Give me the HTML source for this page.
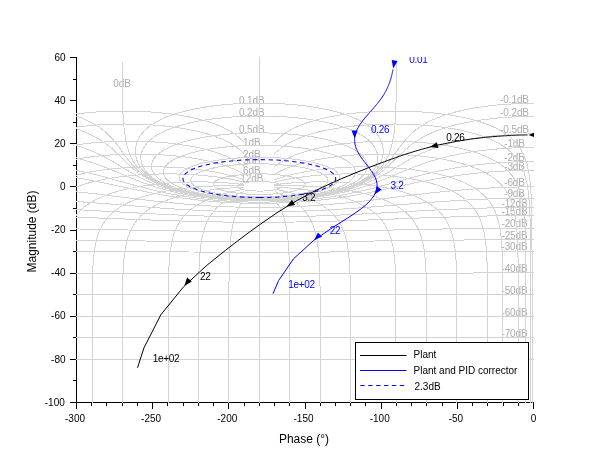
<!DOCTYPE html><html><head><meta charset="utf-8"><title>Nichols chart</title><style>html,body{margin:0;padding:0;background:#fff;overflow:hidden}svg{display:block}text{font-family:"Liberation Sans",sans-serif}</style></head><body><svg width="610" height="460" viewBox="0 0 610 460">
<rect width="610" height="460" fill="#fff"/>
<defs><clipPath id="c"><rect x="76" y="57" width="458" height="346"/></clipPath></defs>
<path d="M76.5,57 V403 M76,402.5 H534M76.5,403 v6M91.5,403 v3M106.5,403 v3M122.5,403 v3M137.5,403 v3M152.5,403 v6M167.5,403 v3M183.5,403 v3M198.5,403 v3M213.5,403 v3M228.5,403 v6M244.5,403 v3M259.5,403 v3M274.5,403 v3M289.5,403 v3M305.5,403 v6M320.5,403 v3M335.5,403 v3M350.5,403 v3M365.5,403 v3M381.5,403 v6M396.5,403 v3M411.5,403 v3M426.5,403 v3M442.5,403 v3M457.5,403 v6M472.5,403 v3M487.5,403 v3M503.5,403 v3M518.5,403 v3M533.5,403 v6M76,402.5 h-6M76,380.5 h-3M76,359.5 h-6M76,337.5 h-3M76,316.5 h-6M76,294.5 h-3M76,273.5 h-6M76,251.5 h-3M76,230.5 h-6M76,208.5 h-3M76,186.5 h-6M76,165.5 h-3M76,143.5 h-6M76,122.5 h-3M76,100.5 h-6M76,79.5 h-3M76,57.5 h-6" fill="none" stroke="#000" stroke-width="1" shape-rendering="crispEdges"/>
<g clip-path="url(#c)">
<g fill="#acacac" font-size="10" text-anchor="middle" letter-spacing="-0.12">
<text x="251.8" y="181.8">12dB</text>
<text x="251.8" y="174.1">6dB</text>
<text x="251.8" y="164.1">3dB</text>
<text x="251.8" y="157.6">2dB</text>
<text x="251.8" y="145.6">1dB</text>
<text x="251.8" y="133.2">0.5dB</text>
<text x="251.8" y="116.3">0.2dB</text>
<text x="251.8" y="103.5">0.1dB</text>
<text x="122" y="87">0dB</text>
<text x="514.5" y="102.7">-0.1dB</text>
<text x="514.5" y="115.8">-0.2dB</text>
<text x="514.5" y="133.2">-0.5dB</text>
<text x="514.5" y="146.8">-1dB</text>
<text x="514.5" y="160.9">-2dB</text>
<text x="514.5" y="169.6">-3dB</text>
<text x="514.5" y="186.1">-6dB</text>
<text x="514.5" y="197.4">-9dB</text>
<text x="514.5" y="206.6">-12dB</text>
<text x="514.5" y="214.9">-15dB</text>
<text x="514.5" y="227.3">-20dB</text>
<text x="514.5" y="239.0">-25dB</text>
<text x="514.5" y="250.3">-30dB</text>
<text x="514.5" y="272.2">-40dB</text>
<text x="514.5" y="293.9">-50dB</text>
<text x="514.5" y="315.5">-60dB</text>
<text x="514.5" y="337.1">-70dB</text>
</g>
<path d="M259.3,191.1 264.1,191 268.3,190.7 272.1,190.2 275.6,189.5 277.1,189.1 278.4,188.7 279.5,188.2 280.2,187.9 280.9,187.3 281.3,186.9 281.5,186.5 281.5,186 281.2,185.6 281,185.3 280.2,184.6 279,184 277.3,183.5 275.2,182.9 272.7,182.4 269.8,182 267.4,181.8 264,181.6 261.1,181.5 257.8,181.5 254.6,181.6 252.1,181.7 248.8,182 245.9,182.4 243.4,182.9 241.3,183.5 239.7,184 238.4,184.6 238,184.9 237.5,185.4 237.3,185.7 237.2,186 237.1,186.3 237.3,186.8 237.4,187 237.8,187.5 238.9,188.1 240.2,188.7 242.3,189.3 244.3,189.8 247,190.3 249.9,190.6 252.9,190.9 256.1,191 259.3,191.1M259.3,194.5 264.7,194.4 269.1,194.2 273.5,194 277.8,193.6 282,193.1 286.1,192.5 289.9,191.8 292.9,191.2 295.6,190.5 298.1,189.7 300.3,188.8 302.2,187.8 303.1,187.3 303.7,186.7 304.6,185.8 304.9,185.2 305.1,184.6 305.1,183.9 305.1,183.6 304.8,182.9 304.3,182.1 303.5,181.4 302.4,180.7 301,179.9 299.3,179.1 296,178 291.7,176.9 286.5,175.9 280.2,175 275.6,174.5 268,174 262,173.9 255,173.9 248,174.2 243.1,174.5 236.2,175.3 230.3,176.2 225.4,177.2 221.4,178.3 218.4,179.5 216.9,180.3 215.6,181 214.7,181.8 214.1,182.5 213.7,183.2 213.5,183.9 213.5,184.6 213.6,184.9 213.9,185.5 214.3,186.1 215.2,187 216,187.5 217.3,188.3 218.8,189 220.5,189.7 222.4,190.3 224.4,190.8 228.7,191.8 234.2,192.8 240,193.5 246,194 252.2,194.4 259.3,194.5M259.3,196.9 267.1,196.8 273.7,196.5 280.3,196.1 286.8,195.5 293.2,194.8 298.4,194 304.5,192.9 309.3,191.7 313.9,190.4 316.5,189.6 318.1,188.9 321.2,187.6 322.6,186.8 323.8,186.1 325,185.2 326,184.3 326.8,183.4 327.2,182.9 327.7,181.9 327.9,181.3 328,180.2 327.9,179.6 327.8,179 327.5,178.4 327.1,177.7 326.6,177.1 326,176.4 325.2,175.7 324.2,174.9 323.1,174.2 321.7,173.4 320.1,172.7 318.3,171.9 316.2,171 313.7,170.2 310.9,169.4 307.7,168.6 304.2,167.8 300.2,167 295.7,166.3 290.8,165.7 285.5,165.1 279.8,164.6 275.8,164.3 271,164.1 266,163.9 260.9,163.8 255.8,163.8 250.8,163.9 245.8,164.1 238.8,164.6 233.1,165.1 227.8,165.7 222.9,166.3 218.4,167 214.4,167.8 210.9,168.6 207.7,169.4 204.9,170.2 202.5,171 200.3,171.9 198.5,172.7 196.9,173.4 195.5,174.2 194.4,174.9 193.4,175.7 192.6,176.4 192,177.1 191.5,177.7 191.1,178.4 190.9,179 190.7,179.6 190.6,180.2 190.7,180.8 190.9,181.9 191.4,182.9 191.8,183.4 192.6,184.3 194.2,185.6 196.1,186.8 198.2,187.9 200.5,188.9 203,189.9 206.5,191 209.3,191.7 213.2,192.6 217.2,193.4 221.2,194.1 225.4,194.8 229.7,195.3 234,195.7 239.4,196.2 243.8,196.5 249.3,196.7 253.8,196.8 259.3,196.9M259.3,197.8 267.6,197.7 275.9,197.4 284.1,196.8 291.1,196.2 299.2,195.2 305.9,194.1 312.5,192.8 317.8,191.5 322.9,190 325.8,189 327.6,188.2 330.3,187.1 331.9,186.2 333.5,185.3 334.9,184.3 336.3,183.3 337.4,182.2 338.3,181 338.7,180.3 339,179.7 339.3,179 339.4,178.3 339.5,177.5 339.4,176.8 339.2,176 338.9,175.1 338.4,174.3 337.8,173.4 336.9,172.4 335.8,171.4 334.4,170.4 332.7,169.3 330.6,168.2 328.1,167.1 325.1,165.9 321.4,164.6 317.1,163.4 312,162.2 305.9,161 298.9,159.9 290.9,158.9 286.9,158.5 281.2,158 275.7,157.7 269.9,157.4 264.4,157.3 258.9,157.3 252.9,157.3 247,157.5 241.3,157.8 235.8,158.1 230.2,158.6 227.7,158.9 219.7,159.9 212.7,161 206.7,162.2 201.5,163.4 197.2,164.6 193.5,165.9 190.5,167.1 188,168.2 185.9,169.3 184.2,170.4 182.8,171.4 181.7,172.4 180.8,173.4 180.2,174.3 179.7,175.1 179.4,176 179.2,176.8 179.2,177.5 179.2,178.3 179.4,179 179.6,179.7 179.9,180.3 180.7,181.6 181.2,182.2 182.4,183.3 183.7,184.3 185.9,185.7 188.3,187.1 191,188.2 193.8,189.3 197.8,190.6 201.9,191.8 206.1,192.8 210.5,193.7 214.9,194.5 219.5,195.2 225.2,195.9 229.8,196.4 235.7,196.9 241.5,197.3 247.4,197.6 253.4,197.8 259.3,197.8M259.3,198.8 269.4,198.7 279.5,198.2 289.6,197.5 298.3,196.6 307,195.4 311.9,194.6 315.5,193.9 320.3,192.9 323.9,192.1 327.4,191.2 330.9,190.2 334.3,189.1 336.5,188.3 339.8,186.9 341.9,186 344.9,184.5 346.9,183.3 348.7,182.1 350.4,180.8 351.9,179.4 353.3,177.8 353.8,176.9 354.3,176 354.8,175.1 355.1,174.1 355.3,173.1 355.4,172 355.3,170.8 355,169.6 354.4,168.2 353.6,166.8 352.4,165.3 350.7,163.6 348.4,161.8 345.3,159.9 341.1,157.8 335.5,155.5 327.8,153.1 316.5,150.4 311.1,149.4 305.1,148.4 299.1,147.6 293.3,147 286.3,146.3 279.7,145.9 272.8,145.6 265.6,145.4 259.3,145.3 252.1,145.4 245,145.6 238.1,146 231.5,146.4 224.6,147.1 218.1,147.8 212.3,148.6 206.4,149.6 201.1,150.6 190.8,153.1 183.2,155.5 177.5,157.8 173.3,159.9 170.2,161.8 167.9,163.6 166.2,165.3 165,166.8 164.2,168.2 163.7,169.6 163.4,170.8 163.3,172 163.3,173.1 163.5,174.1 163.9,175.1 164.3,176 164.8,176.9 165.4,177.8 166.7,179.4 168.2,180.8 169.1,181.5 170.8,182.7 173.7,184.5 175.7,185.5 177.8,186.5 181,187.8 185.4,189.4 190,190.8 194.7,192.1 199.5,193.2 205.5,194.4 211.7,195.4 217.8,196.3 224.1,197 231.6,197.7 237.9,198.2 245.4,198.5 251.7,198.7 259.3,198.8M259.3,199.3 265.8,199.3 271,199.1 277.5,198.9 282.7,198.6 289.2,198.1 294.4,197.7 299.6,197.1 304.8,196.5 309.9,195.7 315,194.9 320.1,194 323.9,193.2 329,192 332.7,191 336.5,189.9 340.2,188.7 343.8,187.4 347.4,185.9 350.9,184.3 353.1,183.1 355.4,181.9 357.5,180.5 359.6,178.9 361.5,177.2 363.3,175.4 364.1,174.3 364.8,173.3 365.5,172.1 366.1,170.9 366.6,169.6 366.9,168.1 367.1,166.6 367.1,164.9 366.7,163.1 366,161.1 364.8,158.8 362.7,156.2 359.6,153.3 354.6,149.9 346.5,145.9 345.7,145.5 340.7,143.7 335.9,142.1 330.1,140.5 324,139.1 318,137.8 311.1,136.6 304.6,135.7 297.4,134.8 289.6,134.1 281.2,133.5 272.3,133.1 264.9,132.9 257.4,132.9 248.2,133 241,133.3 232.3,133.8 224.2,134.5 216.8,135.3 210,136.3 202.8,137.4 196.5,138.6 190.2,140.1 184.1,141.7 179,143.3 175.3,144.6 172.1,145.9 164,149.9 159,153.3 155.9,156.2 153.9,158.8 152.6,161.1 151.9,163.1 151.6,164.9 151.5,166.6 151.7,168.1 152,169.6 152.5,170.9 153.1,172.1 153.8,173.3 154.5,174.3 155.3,175.4 156.2,176.3 158.1,178.1 159.1,178.9 161.1,180.5 164.4,182.5 167.7,184.3 170.1,185.4 172.4,186.5 177.2,188.3 182.1,189.9 187.1,191.3 193.4,192.9 199.8,194.2 206.2,195.3 213.9,196.5 220.3,197.3 228.1,198 235.9,198.6 243.7,199 251.5,199.2 259.3,199.3M259.3,199.6 267.3,199.6 273.9,199.4 280.5,199.1 287.1,198.7 293.8,198.1 300.4,197.4 307,196.6 312.2,195.9 318.8,194.8 324.1,193.7 329.3,192.6 334.6,191.3 339.8,189.8 343.6,188.6 348.8,186.7 352.6,185.2 356.4,183.4 360.1,181.4 363.8,179.2 366.2,177.5 368.5,175.6 370.7,173.5 371.8,172.3 372.8,171.1 373.8,169.7 374.7,168.3 375.6,166.7 376.4,165 377,163.1 377.5,161 377.8,158.6 377.7,155.9 377.1,152.7 375.5,148.8 372.3,144 371.3,142.9 369.9,141.4 368.4,140 366.7,138.6 365.1,137.4 363.2,136.1 361,134.8 357,132.5 352.7,130.5 349.6,129.2 347.2,128.3 341.7,126.5 338.5,125.5 334.9,124.5 328.7,122.9 321.4,121.4 312.8,119.9 306.2,118.9 298.9,118.1 291,117.3 282.5,116.7 273.4,116.3 264,116.1 254.6,116.1 245.2,116.3 236.2,116.7 227.6,117.3 219.7,118.1 212.4,118.9 202.8,120.4 197.2,121.4 189.9,122.9 183.7,124.5 180.1,125.5 176.9,126.5 171.4,128.3 169.1,129.2 165.9,130.5 163.2,131.8 160.9,132.9 157,135.1 154.9,136.5 153.1,137.7 151.2,139.2 149.6,140.6 147.7,142.4 146.3,144 143.1,148.8 141.6,152.7 140.9,155.9 140.8,158.6 141.1,161 141.6,163.1 142.2,165 143,166.7 143.9,168.3 144.8,169.7 145.8,171.1 146.8,172.3 149,174.6 150.1,175.6 152.5,177.5 153.6,178.4 156,180 159.7,182.1 162.2,183.4 164.7,184.6 169.8,186.7 175,188.6 181.5,190.6 188,192.3 194.5,193.7 201.1,195 209,196.3 216.9,197.3 224.9,198.1 232.8,198.7 242.1,199.3 250,199.5 259.3,199.6M259.3,199.7 267.3,199.7 274,199.5 282,199.1 288.6,198.7 296.6,198 303.3,197.2 309.9,196.4 316.6,195.3 323.2,194.1 328.5,193 335.2,191.4 340.4,189.9 345.7,188.3 349.6,186.9 354.9,184.7 358.8,182.9 362.6,180.8 366.5,178.5 369,176.7 370.2,175.7 372.7,173.6 375.1,171.2 376.2,169.8 377.4,168.4 378.5,166.8 379.5,165.1 380.5,163.2 381.4,161 382.2,158.6 382.9,155.9 383.2,152.6 383.1,148.7 382.1,143.8 381.3,141.5 380.3,139.3 379.3,137.4 378.2,135.7 377.2,134.3 375.9,132.7 374.3,130.9 372.9,129.5 371.2,128 369.8,126.9 366.6,124.5 364.6,123.3 362.3,121.9 358.1,119.7 354.6,118.1 352.6,117.2 348,115.5 345.4,114.5 339.2,112.6 335.5,111.6 331.5,110.6 326.9,109.5 321.9,108.5 316.2,107.5 309.9,106.5 302.9,105.6 295.3,104.8 287,104.1 278.1,103.6 268.8,103.3 259.3,103.2 249.8,103.3 240.5,103.6 231.7,104.1 223.4,104.8 215.7,105.6 208.7,106.5 202.4,107.5 196.8,108.5 191.7,109.5 187.2,110.6 183.1,111.6 179.5,112.6 176.2,113.6 170.6,115.5 166,117.2 164,118.1 160.5,119.7 156.3,121.9 154,123.3 152,124.5 150.3,125.8 148.1,127.4 146.3,129 144.8,130.5 143.5,131.8 142.1,133.5 140.9,135 139.7,136.8 138.8,138.4 137.9,140.2 137.1,142 136.5,143.8 135.5,148.7 135.4,152.6 135.8,155.9 136.4,158.6 137.2,161 138.1,163.2 139.1,165.1 140.1,166.8 141.2,168.4 142.4,169.8 144.7,172.4 145.9,173.6 148.4,175.7 149.6,176.7 152.2,178.5 156,180.8 158.6,182.2 161.1,183.5 163.7,184.7 166.4,185.8 171.6,187.8 174.2,188.7 178.2,189.9 184.8,191.7 191.4,193.3 198,194.6 206,196 214,197.1 223.3,198.1 231.3,198.8 240.6,199.3 250,199.6 259.3,199.7M259.3,199.9 270,199.7 279.4,199.4 290.2,198.7 299.5,197.8 308.9,196.7 318.3,195.2 326.4,193.7 330.4,192.8 334.4,191.9 338.4,190.8 342.5,189.6 346.5,188.4 349.2,187.4 353.2,185.9 355.9,184.8 358.6,183.6 361.2,182.3 363.9,180.9 366.6,179.4 370.6,176.8 373.3,174.8 374.7,173.7 377.3,171.3 378.7,169.9 380,168.5 381.4,166.9 382.7,165.2 384,163.3 385.4,161.1 386.7,158.7 388.1,156 389.4,152.7 390.7,148.8 392.2,143.3 392.8,140.4 393.4,137.3 394.1,131.9 394.8,125.6 395.3,118.9 395.7,111.3 396,103.1 396.2,92.1 396.3,82.5 396.4,61.9M259.3,199.9 248.6,199.7 239.2,199.4 228.5,198.7 219.1,197.8 209.7,196.7 200.3,195.2 192.2,193.7 188.2,192.8 184.2,191.9 180.2,190.8 176.2,189.6 172.1,188.4 169.4,187.4 165.4,185.9 162.7,184.8 160.1,183.6 157.4,182.3 154.7,180.9 152,179.4 148,176.8 145.3,174.8 144,173.7 141.3,171.3 139.9,169.9 138.6,168.5 137.3,166.9 135.9,165.2 134.6,163.3 133.2,161.1 131.9,158.7 130.6,156 129.2,152.7 127.9,148.8 126.4,143.3 125.8,140.4 125.3,137.3 124.5,131.9 123.8,125.6 123.3,118.9 122.9,111.3 122.7,103.1 122.4,92.1 122.3,82.5 122.2,61.9M42.7,107.7 48.4,108.7 53.6,109.8 58.3,110.8 62.5,111.8 66.2,112.8 72.6,114.7 75.4,115.7 80.2,117.4 86,119.9 89.2,121.4 91.9,122.8 94.2,124.1 97.2,126 101.2,128.7 104.9,131.6 108.1,134.5 109.9,136.3 111.5,138 114.1,140.9 116.5,144 120.2,148.9 125.3,156.1 129.3,161.3 131.1,163.4 132.8,165.3 134.4,167 137.5,170 139,171.4 142,173.8 144.9,175.9 147.8,177.8 150.6,179.5 154.8,181.8 157.6,183.1 161.7,184.9 165.9,186.6 171.4,188.5 175.4,189.8 180.9,191.3 186.3,192.6 193.1,194.1 198.5,195.1 205.3,196.2 212.1,197.1 218.8,197.9 225.6,198.5 233.7,199.2 240.4,199.5 248.5,199.8 255.3,199.9 263.4,199.9 271.5,199.8 278.2,199.5 284.9,199.2 291.7,198.7 298.4,198 305.2,197.3 312,196.4 318.7,195.3 325.5,194.1 330.9,192.9 336.4,191.6 341.8,190.2 347.3,188.5 351.4,187.1 356.9,184.9 361,183.1 363.8,181.8 366.6,180.3 369.4,178.7 372.3,176.9 375.2,174.9 378.1,172.6 381.1,170 382.7,168.6 385.9,165.3 387.6,163.4 389.3,161.3 393.3,156.1 398.4,148.9 402.1,144 404.8,140.7 407.1,138 409.4,135.6 411.8,133.3 414.3,131.1 416.7,129.2 419.7,127.1 422.3,125.4 425.5,123.5 429.5,121.4 432.6,119.9 436.3,118.3 440.7,116.6 446,114.7 449,113.8 456.2,111.8 460.3,110.8 465,109.8 470.2,108.7 475.9,107.7 482.4,106.8 489.4,105.8 497.2,105 505.6,104.3 514.6,103.8 524,103.5 533.6,103.4M46.1,121.3 54.1,122.9 61,124.4 66.9,125.9 73.4,127.8 76.2,128.8 80,130.1 85.3,132.2 90.4,134.5 95.1,136.9 99.8,139.6 104.2,142.6 106.8,144.4 112.7,149.3 116.9,153.1 125.4,161.4 129.6,165.4 131.5,167.2 135.1,170.2 136.8,171.5 140,173.9 143.2,176 146.2,177.9 149.2,179.6 152.1,181.2 155,182.6 157.9,183.9 160.7,185 165,186.7 169.2,188.1 174.7,189.9 180.3,191.4 185.8,192.7 191.3,193.9 196.8,194.9 202.2,195.9 209,196.9 214.5,197.6 221.3,198.3 228.1,198.9 234.9,199.3 241.7,199.7 248.5,199.9 255.2,200.1 263.4,200.1 270.2,199.9 276.9,199.7 283.7,199.3 290.5,198.9 297.3,198.3 302.8,197.7 309.6,196.9 315,196.1 320.5,195.2 326,194.2 331.5,193 337,191.7 342.5,190.3 346.7,189 352.2,187.2 356.5,185.6 360.7,183.9 363.6,182.6 366.5,181.2 369.4,179.6 372.4,177.9 375.5,176 378.6,173.9 380.2,172.7 383.5,170.2 385.3,168.7 389,165.4 393.2,161.4 401.7,153.1 405.9,149.3 411.8,144.4 414.8,142.3 417.5,140.5 420.3,138.8 423.5,136.9 426.8,135.2 430.6,133.4 434.3,131.8 438.6,130.1 442.4,128.8 446.7,127.4 451.7,125.9 455.6,124.9 459.8,123.9 464.5,122.9 469.7,121.8 475.6,120.8 485.5,119.4 493,118.5 497,118.1 505.4,117.4 509.9,117.1 519.2,116.7 523.9,116.6 533.6,116.5M45.5,138.5 52.5,139.7 58.6,141 64.9,142.4 70.4,143.8 75.8,145.3 81,147 91.7,151 99.4,154.4 105.2,157.3 109.9,159.9 117.3,164.2 127.9,170.6 132.2,173.2 138,176.4 143.3,179.2 146.6,180.8 149.9,182.2 156.2,184.8 159.3,186 163.8,187.5 171.2,189.8 175.5,191 181.3,192.4 185.6,193.4 191.2,194.5 196.9,195.5 202.5,196.4 208.1,197.2 213.7,197.9 219.2,198.5 226.2,199.1 231.7,199.5 238.6,199.9 244.1,200.1 251,200.3 256.6,200.4 263.4,200.4 270.3,200.3 275.9,200.1 286.9,199.5 293.9,199 299.4,198.5 305,197.9 310.5,197.2 316.1,196.4 321.7,195.5 327.4,194.5 331.6,193.7 337.3,192.4 341.6,191.4 346,190.2 350.4,188.9 354.8,187.5 357.8,186.5 364,184.2 370.3,181.5 373.7,180 377.1,178.3 382.5,175.4 386.5,173.2 390.8,170.6 401.4,164.2 408.7,159.9 413.4,157.3 419.2,154.4 426.9,151 437.7,147 444.8,144.7 449,143.6 452.9,142.6 457.2,141.6 462,140.5 470.7,138.9 479.6,137.5 489.9,136.2 496.3,135.6 501.4,135.2 512.3,134.5 523.8,134.1 533.6,133.9M46.2,151.8 51.9,152.7 64.9,155.2 75.3,157.6 83.6,159.9 90.5,162 96.2,164 101.2,165.8 105.6,167.4 113,170.4 133.9,179.1 140,181.5 147.5,184.3 154.5,186.6 162.8,189.1 169.1,190.8 176.9,192.7 185.9,194.5 190.4,195.4 196.3,196.3 206.5,197.8 212.3,198.5 218,199 223.8,199.6 229.5,200 240.9,200.6 252.2,200.9 263.6,200.9 274.9,200.7 286.3,200.2 297.7,199.3 307.8,198.3 318,197 323.8,196.1 328.2,195.4 337.2,193.6 346.4,191.6 352.7,190 359.1,188.2 365.8,186.1 372.9,183.6 378.6,181.5 384.7,179.1 409.1,169 417.4,165.8 422.4,164 428.2,162 435,159.9 443.4,157.6 453.7,155.2 466.7,152.7 472.4,151.8 482.3,150.5 491.8,149.4 502.3,148.6 512.6,148 523.5,147.6 533.6,147.5M45.7,165.3 54.5,166.5 62.3,167.7 69.3,169 75.6,170.2 86.5,172.5 95.7,174.7 103.5,176.7 113.6,179.5 136.7,185.9 149.2,189.1 156.8,190.9 165.7,192.9 172.6,194.3 181,195.8 190.7,197.3 201.7,198.8 211,199.8 221.7,200.7 232.3,201.4 242.8,201.9 253.3,202.1 263.8,202.1 274.3,201.9 283.3,201.6 293.8,201 303,200.2 312.2,199.3 321.6,198.2 331.1,196.9 340.9,195.2 347.7,194 354.6,192.5 361.9,190.9 369.5,189.1 381.9,185.9 405,179.5 415.1,176.7 422.9,174.7 432.1,172.5 443,170.2 449.3,169 456.3,167.7 464.2,166.5 472.9,165.3 482.6,164.2 493.3,163.2 498,162.8 506.8,162.3 515.5,161.9 524.5,161.6 533.6,161.6M45.3,173.5 52,174.3 64.1,175.9 74.7,177.5 84.1,179.1 92.4,180.7 103.3,182.8 136.4,189.9 151.5,192.9 159.5,194.4 167.1,195.7 174.4,196.9 183.2,198.2 193.5,199.5 203.5,200.6 213.3,201.5 223,202.2 232.5,202.7 242,203.1 251.5,203.3 262.5,203.4 271.9,203.2 281.3,202.9 290.9,202.5 300.5,201.9 310.2,201.1 318.4,200.3 328.5,199.1 337.1,198 344.2,196.9 351.5,195.7 359.1,194.4 367.1,192.9 382.2,189.9 415.3,182.8 430.3,179.9 439.1,178.3 449,176.7 460.3,175.1 466.6,174.3 473.3,173.5 480.4,172.8 488,172.1 496,171.5 505.4,171 514.9,170.6 524.2,170.4 533.6,170.3M42.4,188.8 51.3,189.5 59.9,190.2 68,190.9 79.3,192.1 99.6,194.3 138,199.1 154.3,201 171.4,202.8 187.5,204.3 197.2,205.1 206.7,205.7 216,206.3 225.1,206.7 234.2,207 243.2,207.3 252.2,207.4 262.9,207.4 271.8,207.3 280.8,207.1 297.1,206.5 306.3,206.1 315.7,205.5 325.3,204.8 333.1,204.1 347.2,202.8 364.4,201 380.6,199.1 415.9,194.7 435.7,192.4 454.6,190.5 471.7,189.1 485.7,188.2 500.6,187.5 517.1,187 525.4,186.8 533.6,186.8M46.1,199.7 64,200.7 80.8,201.8 99.4,203.2 154.6,207.6 172.9,208.9 188.2,209.8 209.2,210.9 227.5,211.5 245.4,211.9 263.3,212 281.1,211.8 297.2,211.3 313.6,210.7 332.6,209.7 347.9,208.7 364,207.6 419.2,203.2 437.8,201.8 454.6,200.7 472.6,199.7 487.8,199 503.7,198.5 520.1,198.2 533.6,198.1M45.3,208.4 61.7,209.1 80.5,209.9 101.1,211 156.4,214 173.1,214.8 189.3,215.5 209.5,216.2 227,216.6 246.4,216.9 263.6,216.9 278.6,216.8 296,216.5 313.6,216.1 331.6,215.4 347.8,214.7 364.7,213.9 417.5,211 438.2,209.9 456.9,209.1 473.3,208.4 490.3,207.9 504.2,207.6 518.4,207.4 533.6,207.3M43.7,216.3 62.1,216.8 80,217.3 155.7,220.2 189.9,221.3 208.8,221.7 227.3,222.1 245.6,222.2 261.6,222.3 277.5,222.2 295.9,222 312.2,221.7 331.1,221.2 362.9,220.2 435.7,217.4 453.5,216.9 471.8,216.4 487.5,216 503.5,215.7 519.7,215.6 533.6,215.6M44.9,228.5 79.2,229 157.4,230.6 190.4,231.2 227.5,231.7 261.7,231.8 296,231.6 330.7,231.2 363.8,230.6 436.6,229.1 473.7,228.5 503.1,228.1 533.6,228M45.2,239.9 81.3,240.3 190.4,241.5 226.3,241.7 261.8,241.8 294.9,241.7 330.8,241.5 437.3,240.3 473.5,239.9 504.5,239.8 533.6,239.7M43.8,251.1 188.9,252 225.5,252.1 261.9,252.1 295.7,252.1 329.7,252 472.1,251.1 533.6,251M45.3,273 190.2,273.3 262,273.3 331.1,273.3 473.3,273 533.6,272.9M44.9,294.6 262,294.7 533.6,294.6M44.8,316.2 533.6,316.2M44.7,337.8 533.6,337.8M44.7,359.4 533.6,359.4M274.5,142.1 283.3,134.3 291.8,129.2 300,125.4 307.9,122.5 315.6,120.2 322.9,118.3 330.1,116.8 337,115.5 343.6,114.5 350.1,113.6 356.3,113 362.3,112.4 368.1,112 379.1,111.4 384.4,111.2 394.3,111.1 403.6,111.1 408,111.3 416.4,111.6 420.3,111.9 427.9,112.4 438.3,113.5 447.6,114.7 453.4,115.6 458.7,116.6 463.7,117.6 468.3,118.6 472.7,119.7 476.8,120.9 480.5,122 484.1,123.2 487.4,124.4 490.5,125.6 493.3,126.9 496,128.1 498.5,129.4 502,131.4 504.1,132.7 507,134.7 509.6,136.7 511.9,138.7 513.4,140.1 515.4,142.1 517.2,144.2 518.8,146.4 520.2,148.5 521.5,150.7 522.7,152.9 524.1,156 525.1,158.3 525.9,160.7 526.7,163.1 527.6,166.5 528.1,169.1 528.8,172.8 529.5,176.8 529.9,179.9 530.3,184.5 530.7,188.3 531.2,197.6 531.6,208.4 531.9,222.7 532,249.6 532.1,758M244.1,142.1 235.3,134.3 226.8,129.2 218.6,125.4 210.7,122.5 203.1,120.2 195.7,118.3 188.5,116.8 181.6,115.5 175,114.5 168.5,113.6 162.3,113 156.3,112.4 150.5,112 144.9,111.6 134.3,111.2 129.2,111.1 119.6,111.1 110.6,111.3 102.3,111.6 94.5,112.1 87.2,112.7 80.4,113.5 71,114.7 65.3,115.6 57.4,117.1 52.6,118.1 45.9,119.7M274.5,153.5 282.2,147.1 289.5,142.6 296.7,139.1 303.7,136.4 310.4,134.2 317,132.4 323.3,130.8 329.5,129.6 335.5,128.5 341.3,127.6 347,126.8 352.5,126.2 363,125.2 372.8,124.6 382.1,124.2 386.6,124.1 395.1,124 406.9,124.3 417.8,124.8 427.7,125.5 433.8,126.1 439.6,126.8 445,127.5 450.2,128.3 455,129.1 459.6,130 463.8,130.9 467.9,131.9 471.7,132.9 477,134.4 483.3,136.5 486.3,137.6 490.3,139.2 492.8,140.3 496.3,142 498.5,143.2 501.5,145 504.2,146.8 506.7,148.6 509,150.5 511.1,152.3 513.1,154.3 514.8,156.2 516.4,158.2 517.9,160.3 519.2,162.4 520.5,164.5 521.6,166.7 522.9,169.7 523.9,172.1 524.7,174.6 525.4,177.2 526.1,180 526.8,182.9 527.4,186 527.9,189.5 528.4,193.3 529.1,200.9 529.6,208.9 530,217.4 530.3,231.2 530.5,252.4 530.6,770.9M244.1,153.5 236.5,147.1 229.1,142.6 221.9,139.1 214.9,136.4 208.2,134.2 201.6,132.4 195.3,130.8 189.1,129.6 183.1,128.5 177.3,127.6 171.6,126.8 166.2,126.2 160.8,125.6 150.7,124.8 141.1,124.3 132,124.1 123.5,124 115.5,124.2 108,124.4 100.8,124.8 94.1,125.2 84.8,126.1 79,126.8 71,127.9 63.6,129.1 56.9,130.5 50.7,131.9 45.1,133.4M274.5,166.5 280.6,162.2 286.5,158.9 292.3,156.2 297.9,154 303.5,152.1 308.8,150.5 314.1,149.1 319.2,147.9 324.2,146.8 329.1,145.9 333.9,145.2 343.2,143.9 347.6,143.3 356.2,142.5 364.4,141.9 376,141.4 386.8,141.2 396.9,141.3 403.2,141.4 409.2,141.7 415,142 420.5,142.4 430.7,143.4 440,144.6 448.4,145.9 452.4,146.6 457.9,147.8 461.4,148.6 466.4,149.8 469.5,150.7 473.9,152 476.6,152.9 480.5,154.3 484.2,155.7 487.6,157.2 489.7,158.2 492.7,159.7 495.5,161.3 498.1,162.9 500.6,164.5 502.8,166.2 504.9,168 506.9,169.8 508.7,171.7 510.4,173.6 512,175.6 513.5,177.7 514.9,179.8 516.2,182.1 517.4,184.5 518.5,187.1 519.5,189.9 520.2,191.9 521.1,195.1 521.7,197.5 522.5,201.4 523,204.4 523.5,207.7 523.9,211.6 524.6,218.9 525,225.7 525.2,230.1 525.6,243.5 525.8,256.7 526,788.1M244.1,166.5 238,162.2 232.1,158.9 226.3,156.2 220.7,154 215.2,152.1 209.8,150.5 204.5,149.1 199.4,147.9 194.4,146.8 189.5,145.9 184.7,145.2 180,144.5 171,143.3 166.7,142.9 158.3,142.2 150.3,141.7 142.6,141.4 135.3,141.2 128.4,141.2 121.8,141.3 112.4,141.5 106.5,141.8 98.2,142.4 90.4,143.1 83.2,144 76.5,144.9 70.2,145.9 64.4,147 57.2,148.6 52.2,149.8 46.2,151.5M274.5,174.2 279.4,171.5 284.2,169.3 288.9,167.4 293.5,165.7 298,164.3 302.5,163 306.8,161.9 311.1,160.9 315.3,160 323.4,158.5 327.4,157.9 335.1,156.8 338.8,156.4 346.1,155.6 356.5,154.8 366.3,154.4 372.6,154.2 378.6,154.1 389.9,154.2 400.4,154.5 405.4,154.8 412.5,155.3 417,155.7 423.5,156.4 431.6,157.4 440.8,158.8 449.2,160.5 456.9,162.2 463.8,164.1 467.7,165.3 471.4,166.6 477,168.8 480.1,170.2 483.1,171.6 485,172.6 487.7,174.1 490.2,175.6 492.6,177.2 494.9,178.9 497.1,180.7 499.1,182.5 500.4,183.8 502.2,185.8 503.4,187.2 505.1,189.4 506.1,190.9 507.6,193.4 508.6,195.2 510,198.1 510.9,200.1 511.7,202.4 512.5,204.8 513.3,207.6 514.1,210.6 515.2,216.1 515.9,220.6 516.2,223.3 516.8,230 517.2,234.3 517.5,239.9 517.8,247.7 518.1,260.8 518.4,801M244.1,174.2 239.2,171.5 234.4,169.3 229.7,167.4 225.1,165.7 220.6,164.3 216.1,163 211.8,161.9 207.5,160.9 203.3,160 195.2,158.5 187.3,157.3 179.8,156.4 172.5,155.6 165.5,155.1 158.8,154.7 152.3,154.4 146.1,154.2 137.1,154.1 131.5,154.1 123.3,154.3 115.7,154.7 108.4,155.1 101.6,155.7 93,156.6 87.1,157.4 79.6,158.5 74.3,159.5 67.8,160.8 61.7,162.2 56.1,163.7 50.9,165.3 46.1,167M274.5,179.8 278.2,178.5 281.9,177.3 285.5,176.2 289,175.3 295.9,173.6 299.3,172.9 306,171.6 315.6,170.1 324.8,169 333.6,168.1 342,167.5 352.7,167 362.8,166.8 372.3,166.8 383.5,167.2 393.9,167.8 403.6,168.6 412.6,169.6 421,170.8 428.8,172.1 436.1,173.6 442.8,175.2 446.6,176.3 450.3,177.4 456.1,179.3 459.3,180.5 462.5,181.8 467.4,184 472,186.5 474.6,188.1 476.3,189.2 478.7,190.9 480.2,192.1 482.5,194 483.9,195.3 486,197.4 487.4,199 488.7,200.6 490,202.3 491.2,204.1 492.4,206.1 493.6,208.2 494.7,210.6 496.3,214.6 497.4,217.8 497.9,219.6 498.9,223.6 499.9,228.6 500.4,231.6 500.9,235.1 501.3,239.5 501.8,245 502.2,252.7 502.7,265.8 503.1,813.7M244.1,179.8 240.4,178.5 236.7,177.3 233.1,176.2 229.6,175.3 222.7,173.6 216,172.2 209.4,171.1 203.1,170.1 196.9,169.3 190.9,168.6 182.2,167.9 176.6,167.5 168.5,167.1 160.8,166.9 153.4,166.8 146.3,166.8 137.3,167.1 130.9,167.4 122.7,167.9 116.9,168.4 109.5,169.2 102.6,170 96,171 89.8,172.1 84,173.3 78.5,174.6 73.2,175.9 68.3,177.4 62.5,179.3 57.2,181.3 53.1,183.1 49.3,185 45.7,187M274.5,182.2 280.5,180.7 289.2,179 297.6,177.6 305.7,176.5 313.5,175.7 323.5,174.8 333.1,174.3 344.4,173.9 353,173.9 363.2,174.1 372.9,174.5 382,175.1 390.5,175.9 400.2,177.1 407.7,178.2 416.2,179.7 422.9,181.2 430.3,183.1 436.2,184.8 441.7,186.7 446.9,188.7 451.8,191 456.4,193.4 459.1,195 460.8,196.1 463.3,197.9 464.9,199.1 468,201.8 469.5,203.2 471,204.8 472.4,206.4 473.8,208.2 475.2,210.1 476.6,212.2 478.5,215.8 479.8,218.5 480.4,220 481.6,223.3 482.8,227.3 484,232.2 484.6,235.2 485.1,238.7 485.7,243 486.3,248.5 486.8,256.2 487.3,269.3 487.9,820.8M244.1,182.2 238.1,180.7 232.3,179.5 226.6,178.5 218.3,177.2 210.3,176.2 202.6,175.4 195.1,174.8 187.9,174.4 180.9,174.1 172,173.9 163.5,173.9 155.4,174.1 147.6,174.4 138.4,175 131.5,175.6 123.2,176.5 116.9,177.3 109.4,178.4 103.8,179.5 97.1,180.9 90.7,182.4 84.7,184.1 79.1,185.9 74.8,187.5 69.7,189.6 65.9,191.4 63.1,192.9 61.3,193.9 57.8,196.1 54.5,198.5 51.4,201.1 49.8,202.5 48.4,204 46.2,206.4M274.5,184.6 282.9,183.7 291,183 298.9,182.5 306.4,182.1 315.6,181.9 324.4,181.9 332.8,182.1 340.9,182.4 348.6,182.9 357.5,183.6 364.6,184.4 372.7,185.5 380.5,186.7 387.8,188.2 394.8,189.8 400.4,191.2 405.8,192.8 410.9,194.6 415.9,196.5 420.6,198.6 425.1,201 428.6,203 432,205.3 435.3,207.8 436.9,209.2 438.5,210.7 440,212.3 441.6,214 443.8,216.8 446,220 447.4,222.5 448.1,223.9 449.5,226.9 450.9,230.5 452.2,234.8 452.9,237.4 453.6,240.4 454.2,243.8 454.9,248.1 455.5,253.6 456.1,261.2 456.8,274.3 457.4,828.8M244.1,184.6 235.7,183.7 227.6,183 219.8,182.5 212.2,182.1 203,181.9 194.3,181.9 185.8,182.1 177.8,182.4 170,182.9 161.1,183.6 154,184.4 145.9,185.5 138.2,186.7 130.8,188.2 123.8,189.8 118.2,191.2 112.8,192.8 107.7,194.6 102.8,196.5 98,198.6 93.5,201 90,203 86.6,205.3 83.3,207.8 81.7,209.2 80.1,210.7 78.6,212.3 77.1,214 74.8,216.8 72.6,220 71.2,222.5 70.5,223.9 69.1,226.9 67.7,230.5 66.4,234.8 65.7,237.4 65.1,240.4 64.4,243.8 63.8,248.1 63.1,253.6 62.5,261.2 61.8,274.3 61.2,828.8M274.5,186 282.1,185.8 289.5,185.7 296.7,185.8 305,186 311.7,186.3 319.5,186.8 327,187.5 334.3,188.3 341.3,189.2 348,190.2 354.5,191.4 359.8,192.5 365.9,194 370.8,195.3 376.5,197 381.1,198.7 385.6,200.4 389.9,202.4 394.2,204.5 397.4,206.4 400.6,208.5 403.8,210.8 406.8,213.4 409.1,215.6 411.3,218 413.4,220.8 415.6,224 417,226.4 418.3,229.2 419.7,232.4 421.1,236.3 421.7,238.5 422.4,241.1 423.1,244 423.7,247.5 424.4,251.7 425,257.2 425.7,264.8 426.3,277.9 426.9,830.6M244.1,186 236.5,185.8 229.1,185.7 221.9,185.8 213.6,186 206.9,186.3 199.1,186.8 191.6,187.5 184.4,188.3 177.4,189.2 170.6,190.2 164.1,191.4 158.8,192.5 152.7,194 147.8,195.3 142.1,197 137.5,198.7 133,200.4 128.7,202.4 124.5,204.5 121.2,206.4 118,208.5 114.9,210.8 111.8,213.4 109.6,215.6 107.3,218 105.2,220.8 103.1,224 101.7,226.4 100.3,229.2 98.9,232.4 97.6,236.3 96.9,238.5 96.2,241.1 95.6,244 94.9,247.5 94.3,251.7 93.6,257.2 93,264.8 92.3,277.9 91.7,830.6M274.5,187.2 281.1,187.5 287.5,187.9 293.7,188.4 300.8,189.1 307.6,189.9 313.3,190.7 319.8,191.8 325.2,192.8 330.5,193.9 335.6,195.2 340.6,196.5 345.5,198 350.3,199.7 354.1,201.2 357.9,202.8 361.6,204.6 365.3,206.6 368.1,208.3 370.9,210.2 373.7,212.3 376.4,214.6 378.4,216.5 381,219.4 383,221.9 384.9,224.8 386.1,226.9 388,230.7 389.2,233.6 390.5,237.1 391.1,239.1 392.3,243.9 392.9,246.8 393.5,250.3 394.1,254.5 394.7,259.9 395.3,267.6 395.9,280.6 396.5,831.8M244.1,187.2 237.5,187.5 231.1,187.9 224.9,188.4 217.9,189.1 211,189.9 205.3,190.7 198.8,191.8 193.4,192.8 188.1,193.9 183,195.2 178,196.5 173.1,198 168.4,199.7 164.5,201.2 160.7,202.8 157,204.6 153.3,206.6 150.5,208.3 147.7,210.2 144.9,212.3 142.2,214.6 140.2,216.5 137.6,219.4 135.7,221.9 133.8,224.8 132.5,226.9 130.6,230.7 129.4,233.6 128.1,237.1 127.5,239.1 126.3,243.9 125.7,246.8 125.1,250.3 124.5,254.5 123.9,259.9 123.3,267.6 122.8,280.6 122.2,831.8M274.5,189.2 279.3,190.1 283.5,191 288.1,192 292.1,193.1 296,194.2 299.9,195.4 303.7,196.7 307.4,198.1 310.5,199.4 313.7,200.8 316.7,202.3 319.7,204 322.2,205.5 324.7,207.1 327.1,208.9 329.5,210.8 331.4,212.6 333.3,214.5 335.1,216.5 337,218.9 338.4,220.8 339.7,223 341.1,225.5 342.4,228.3 343.3,230.4 344.2,232.8 345.1,235.5 346,238.7 346.9,242.5 347.3,244.7 348.2,250.1 348.6,253.6 349,257.8 349.5,263.2 349.9,270.8 350.3,283.8 350.7,833.3M244.1,189.2 239.3,190.1 235.1,191 230.5,192 226.5,193.1 222.6,194.2 218.8,195.4 215,196.7 211.2,198.1 208.1,199.4 205,200.8 201.9,202.3 198.9,204 196.4,205.5 193.9,207.1 191.5,208.9 189.1,210.8 187.2,212.6 185.3,214.5 183.5,216.5 181.6,218.9 180.2,220.8 178.9,223 177.5,225.5 176.2,228.3 175.3,230.4 174.4,232.8 173.5,235.5 172.6,238.7 171.8,242.5 171.3,244.7 170.5,250.1 170,253.6 169.6,257.8 169.2,263.2 168.7,270.8 168.3,283.8 167.9,833.3M274.5,191.6 277.6,192.7 280.2,193.9 282.9,195 285.5,196.3 288,197.7 290.3,199 292.5,200.3 294.3,201.6 296.5,203.2 298.4,204.7 300.2,206.3 301.7,207.7 303.2,209.3 304.7,211 306.2,212.9 307.4,214.5 308.6,216.3 309.7,218.2 310.9,220.4 311.8,222.2 312.6,224.2 313.5,226.5 314.3,229 315.2,231.9 316.3,236.7 316.9,239.6 317.5,243 318.3,249.8 318.9,256.1 319.4,265.7 319.7,273.3 320,286.3 320.3,827.7M244.1,191.6 241.1,192.7 238.4,193.9 235.8,195 233.2,196.3 230.6,197.7 228.4,199 226.2,200.3 224.3,201.6 222.1,203.2 220.3,204.7 218.4,206.3 216.9,207.7 215.4,209.3 213.9,211 212.4,212.9 211.2,214.5 210.1,216.3 208.9,218.2 207.7,220.4 206.9,222.2 206,224.2 205.1,226.5 204.3,229 203.4,231.9 202.3,236.7 201.7,239.6 201.2,243 200.3,249.8 199.8,256.1 199.2,265.7 198.9,273.3 198.6,286.3 198.4,827.7M274.5,199.6 276.4,202 278.1,204.5 279.7,207.2 281.1,210 282.4,213.2 283.6,216.2 284.6,219.6 285.5,223.2 286.2,226.5 286.9,230.6 287.5,235 288,239.6 288.4,244.3 288.8,250.6 289.1,257.3 289.3,263.6 289.5,273.2 289.7,293.8 289.8,815.9M244.1,199.6 242.2,202 240.5,204.5 239,207.2 237.5,210 236.2,213.2 235.1,216.2 234,219.6 233.1,223.2 232.4,226.5 231.7,230.6 231.1,235 230.6,239.6 230.2,244.3 229.8,250.6 229.5,257.3 229.3,263.6 229.1,273.2 228.9,293.8 228.8,815.9M259.3,52.5 V132.8M259.3,199.8 V407.5" fill="none" stroke="#d3d3d3" stroke-width="1" shape-rendering="crispEdges"/>
<path d="M259.3,197.5 264.1,197.5 267.6,197.4 271.2,197.3 274.8,197.2 279.5,196.9 283,196.6 286.5,196.3 290,196 293.5,195.6 296.9,195.1 300.3,194.6 303.6,194.1 306.9,193.4 310.2,192.8 313.4,192 315.4,191.5 318.5,190.6 320.4,190 323.3,189 325.1,188.3 326.8,187.5 328.4,186.7 330,185.8 331.4,184.9 332.7,183.9 333.2,183.4 333.8,182.8 334.2,182.3 334.7,181.7 335,181.1 335.3,180.5 335.5,179.8 335.6,179.1 335.7,178.4 335.6,177.7 335.4,177 335.1,176.2 334.6,175.4 334,174.5 333.2,173.7 332.1,172.8 330.8,171.8 329.2,170.8 327.3,169.8 325,168.8 322.2,167.7 318.9,166.6 315.1,165.5 310.6,164.4 305.5,163.4 299.5,162.4 292.8,161.5 285.2,160.7 277,160.1 268.3,159.7 259.3,159.6 250.3,159.7 241.6,160.1 233.4,160.7 225.9,161.5 219.1,162.4 213.2,163.4 208,164.4 203.5,165.5 199.7,166.6 196.4,167.7 193.7,168.8 191.4,169.8 189.4,170.8 187.8,171.8 186.5,172.8 185.5,173.7 184.6,174.5 184,175.4 183.5,176.2 183.2,177 183,177.7 182.9,178.4 183,179.1 183.1,179.8 183.3,180.5 183.6,181.1 184,181.7 184.4,182.3 184.9,182.8 185.4,183.4 186,183.9 187.2,184.9 187.9,185.3 189.4,186.2 190.2,186.7 191.8,187.5 194.4,188.6 197.2,189.7 199.2,190.3 201.2,190.9 204.2,191.8 208.4,192.8 212.8,193.7 217.2,194.4 221.7,195.1 226.3,195.7 230.9,196.2 236.8,196.7 241.5,197 247.4,197.3 253.4,197.5 259.3,197.5" fill="none" stroke="#0000ff" stroke-width="1.05" stroke-dasharray="4.4,3.5"/>
<path d="M527.5,135 527.5,135 527.5,135 527.4,135 527.4,135 527.2,135 527,135 526.8,135 526.6,135 526.5,135 526.3,135 526.1,135 525.9,135 525.7,135 525.6,135 525.4,135 525.2,135 525,135 524.8,135 524.7,135 524.5,135 524.1,135 523.8,135 523.4,135.1 523.1,135.1 522.7,135.1 522.4,135.1 522,135.1 521.7,135.1 521.3,135.1 520.9,135.1 520.6,135.1 520.2,135.1 519.9,135.1 519.5,135.1 519.2,135.2 518.5,135.2 517.8,135.2 517.1,135.2 516.4,135.2 515.7,135.3 515,135.3 514.3,135.3 513.6,135.4 512.9,135.4 512.2,135.4 511.5,135.4 510.8,135.5 509.5,135.5 508.1,135.6 506.8,135.7 505.4,135.8 504.1,135.8 502.8,135.9 501.5,136 500.2,136.1 498.9,136.2 497.6,136.3 495.1,136.5 492.7,136.7 490.2,136.9 487.9,137.1 485.6,137.3 483.3,137.6 481.1,137.8 478.9,138.1 474.7,138.6 470.7,139.1 466.9,139.7 463.3,140.2 459.8,140.8 456.5,141.3 453.4,141.9 450.4,142.5 447.6,143 444.9,143.6 442.3,144.2 439.8,144.7 437.4,145.2 435.2,145.8 433,146.3 430.9,146.8 428.9,147.4 427,147.9 425.1,148.4 421.6,149.3 418.3,150.3 415.2,151.2 412.3,152.1 409.5,153 406.9,153.8 404.4,154.6 402,155.4 399.8,156.2 395.5,157.7 391.6,159.1 387.8,160.4 384.4,161.7 381.1,162.9 377.9,164.1 372.1,166.3 366.7,168.4 361.8,170.4 357.1,172.2 348.7,175.7 341.2,178.8 334.4,181.8 322.7,187.2 313,191.9 297.6,200.2 285.9,207.2 277.9,212.2 271.1,216.8 259.8,224.6 250.6,231.2 237.5,241 225.5,250.3 207.2,265 183.8,286.5 160.8,314.8 143.9,348 137.5,367.8" fill="none" stroke="#000" stroke-width="1" stroke-linejoin="round"/>
<path d="M393,69.4 393,69.4 393,69.5 393,69.6 392.9,69.9 392.8,70.4 392.7,71 392.6,71.5 392.5,72 392.4,72.4 392.3,72.9 392.2,73.4 392.1,73.8 392,74.2 391.9,74.7 391.8,75.1 391.7,75.5 391.6,75.9 391.5,76.3 391.4,76.7 391.3,77 391.1,77.8 390.9,78.5 390.7,79.1 390.5,79.8 390.3,80.4 390.1,81 389.9,81.6 389.7,82.2 389.5,82.8 389.3,83.3 389.1,83.8 388.9,84.4 388.7,84.9 388.5,85.3 388.3,85.8 387.9,86.7 387.5,87.6 387.1,88.5 386.7,89.3 386.4,90.1 386,90.8 385.6,91.5 385.2,92.2 384.8,92.9 384.4,93.6 384.1,94.2 383.7,94.8 382.9,96 382.2,97.1 381.5,98.2 380.8,99.2 380,100.2 379.3,101.1 378.6,102 378,102.9 377.3,103.7 376.6,104.5 375.3,106.1 374.1,107.5 372.9,108.9 371.7,110.2 370.6,111.5 369.5,112.7 368.5,113.8 367.5,115 365.7,117.1 364.1,119 362.6,120.9 361.3,122.7 360.1,124.4 359.1,125.9 358.2,127.5 357.4,128.9 356.8,130.3 356.2,131.6 355.8,132.9 355.4,134.1 355.1,135.3 354.9,136.4 354.7,137.5 354.7,138.6 354.6,139.6 354.6,140.5 354.7,141.5 354.8,143.2 355.2,144.9 355.6,146.5 356,147.9 356.6,149.3 357.1,150.6 357.7,151.8 358.4,153 359,154.1 360.3,156.1 361.5,157.9 362.7,159.6 363.9,161.2 365,162.6 366,163.9 367.9,166.3 369.5,168.4 370.8,170.3 372,171.9 373.9,174.9 375.2,177.4 376.1,179.6 377,183.3 377.1,186.4 376,191.3 374.1,195.3 372.2,198.1 370.2,200.6 365.9,204.9 361.5,208.5 354,213.9 346.1,219 332.5,227.6 313.4,240.7 293.6,258.7 278.6,280.6 273,293.7" fill="none" stroke="#0000ff" stroke-width="1" stroke-linejoin="round"/>
<polygon points="528.5,135.0 536.5,131.9 536.6,137.9" fill="#000"/>
<polygon points="429.9,147.1 436.8,142.2 438.4,148.0" fill="#000"/>
<polygon points="286.7,206.6 291.9,199.8 295.1,204.9" fill="#000"/>
<polygon points="184.4,285.7 187.1,277.6 191.8,281.4" fill="#000"/>
<polygon points="393.2,68.4 391.7,60.0 397.6,61.1" fill="#0000ff"/>
<polygon points="354.6,138.6 351.6,130.6 357.6,130.6" fill="#0000ff"/>
<polygon points="374.7,194.5 376.7,186.2 381.7,189.5" fill="#0000ff"/>
<polygon points="314.1,240.0 318.0,232.4 322.0,236.8" fill="#0000ff"/>
<g fill="#000" font-size="10" letter-spacing="-0.3">
<text x="543.8" y="128.5">0.01</text>
<text x="446.2" y="140.9">0.26</text>
<text x="302.2" y="200.7">3.2</text>
<text x="200.1" y="280.0">22</text>
<text x="152.8" y="362.2">1e+02</text>
</g>
<g fill="#0000ff" font-size="10" letter-spacing="-0.3">
<text x="409.3" y="62.9">0.01</text>
<text x="370.9" y="133.1">0.26</text>
<text x="390.4" y="188.8">3.2</text>
<text x="329.7" y="234.2">22</text>
<text x="288.3" y="288.1">1e+02</text>
</g>
</g>
<g fill="#000" font-size="10" text-anchor="middle">
<text x="75.0" y="422.3">-300</text>
<text x="151.1" y="422.3">-250</text>
<text x="227.3" y="422.3">-200</text>
<text x="303.5" y="422.3">-150</text>
<text x="379.7" y="422.3">-100</text>
<text x="455.9" y="422.3">-50</text>
<text x="533.6" y="422.3">0</text>
</g>
<g fill="#000" font-size="10" text-anchor="end">
<text x="64.8" y="405.6">-100</text>
<text x="65.5" y="362.5">-80</text>
<text x="65.5" y="319.4">-60</text>
<text x="65.5" y="276.2">-40</text>
<text x="65.5" y="233.1">-20</text>
<text x="65.5" y="190.0">0</text>
<text x="65.5" y="146.8">20</text>
<text x="65.5" y="103.7">40</text>
<text x="65.5" y="60.6">60</text>
</g>
<text x="304" y="443" font-size="12" text-anchor="middle" fill="#000">Phase (°)</text>
<text transform="translate(35.8,231.5) rotate(-90)" font-size="12" text-anchor="middle" fill="#000">Magnitude (dB)</text>
<rect x="355.5" y="342.5" width="173" height="57" fill="#fff" stroke="#000" stroke-width="1"/>
<path d="M360,355.5 H406.5" stroke="#000" stroke-width="1" fill="none"/>
<path d="M360,370.5 H406.5" stroke="#0000ff" stroke-width="1" fill="none"/>
<path d="M360.3,385.5 H405" stroke="#0000ff" stroke-width="1" fill="none" stroke-dasharray="4.4,3.5"/>
<g fill="#000" font-size="10">
<text x="413.5" y="358">Plant</text>
<text x="413.5" y="374">Plant and PID corrector</text>
<text x="414.5" y="389.8">2.3dB</text>
</g>
</svg></body></html>
